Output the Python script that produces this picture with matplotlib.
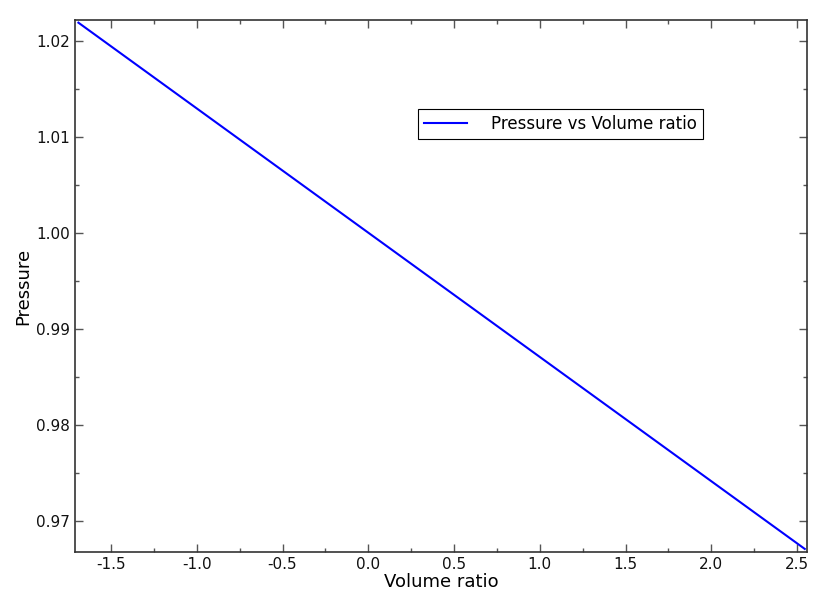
import matplotlib
matplotlib.use("Agg")
import matplotlib.pyplot as plt
from matplotlib.ticker import MultipleLocator

volume_ratio = [-1.69, 2.545]
pressure = [1.0219, 0.9671]

fig = plt.figure(figsize=(8.4, 6.06), dpi=100)
ax = fig.add_axes([75 / 840, 54 / 606, 732 / 840, 532 / 606])

ax.plot(volume_ratio, pressure, color="blue", lw=1.5, label="Pressure vs Volume ratio")

ax.set_xlim(-1.71, 2.558)
ax.set_ylim(0.96678, 1.02218)
ax.xaxis.set_major_locator(MultipleLocator(0.5))
ax.xaxis.set_minor_locator(MultipleLocator(0.25))
ax.yaxis.set_major_locator(MultipleLocator(0.01))
ax.yaxis.set_minor_locator(MultipleLocator(0.005))
ax.xaxis.set_major_formatter(plt.FormatStrFormatter("%.1f"))
ax.yaxis.set_major_formatter(plt.FormatStrFormatter("%.2f"))

ax.tick_params(which="both", direction="in", top=True, right=True,
               colors="#555555", labelcolor="#111111", labelsize=11)
ax.tick_params(which="major", length=6, width=1)
ax.tick_params(which="minor", length=3, width=1)
for s in ax.spines.values():
    s.set_color("#333333")
    s.set_linewidth(1.2)

ax.set_xlabel("Volume ratio", fontsize=13, labelpad=1)
ax.set_ylabel("Pressure", fontsize=13, labelpad=3)

leg = ax.legend(loc="upper left", bbox_to_anchor=(0.469, 0.833), fontsize=12,
                fancybox=False, framealpha=1, edgecolor="black",
                borderaxespad=0, handlelength=2.6, handletextpad=1.4, borderpad=0.35)
leg.get_frame().set_linewidth(0.8)

fig.savefig("out.png", dpi=100)
